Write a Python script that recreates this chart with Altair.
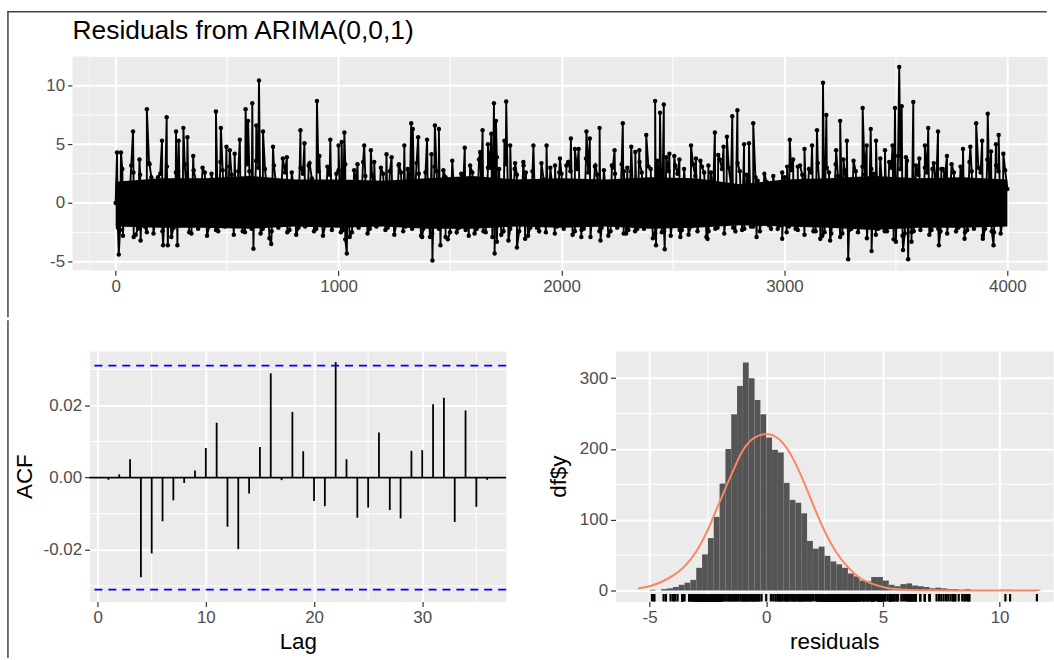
import altair as alt
import pandas as pd

FONT = "Liberation Sans"
TITLE = "Residuals from ARIMA(0,0,1)"
BORDER = "#444444"
PANEL = "#EBEBEB"

# ---------------- top panel: residual series ----------------
core_step = 20
core_v = [
    0.0, -2.3, 1.4, -0.6, 2.6, -2.2, 0.9, -2.5, 2.2, -1.1,
    2.5, -0.3, 1.7, -2.1, 2.7, -1.5, 0.4, -2.6, 1.9, -0.9,
    2.6, -2.0, 1.2, -2.4, 2.8, -0.7, 2.4, -1.3, 0.6, -2.5,
    2.7, -1.6, 3.0, -2.2, 0.8, -2.4, 1.5, -0.2, 2.6, -2.3,
    1.1, -2.1, 2.5, -0.8, 2.1, -2.2, 0.3, -1.9, 2.4, -1.4,
    2.8, -2.3, 0.7, -2.5, 1.8, -1.0, 2.3, -2.2, 1.3, -0.5,
    2.5, -2.1, 0.9, -1.7, 2.6, -2.0, 1.6, -0.4, 2.5, -2.2,
    1.0, -2.6, 2.7, -1.2, 2.2, -2.5, 0.5, -2.1, 1.9, -0.8,
    2.6, -2.2, 1.4, -2.5, 3.0, -0.6, 2.9, -2.4, 0.2, -1.8,
    2.4, -1.1, 2.6, -2.1, 0.6, -2.4, 2.0, -1.5, 1.2, -2.0,
    2.5, -0.9, 2.7, -2.4, 1.5, -2.2, 2.6, -0.4, 2.4, -2.1,
    0.8, -2.4, 2.5, -1.6, 2.7, -2.3, 1.1, -2.2, 2.6, -0.7,
    2.9, -2.6, 1.7, -2.4, 2.7, -1.0, 2.5, -2.3, 0.4, -2.0,
    2.3, -1.4, 2.6, -2.4, 0.9, -2.1, 2.9, -0.5, 1.6, -2.4,
    2.7, -2.2, 1.3, -2.0, 1.9, -0.8, 1.8, -2.2, 0.5, -1.9,
    2.2, -2.0, 1.0, -2.3, 2.4, -1.3, 2.6, -2.4, 0.7, -2.5,
    2.6, -0.6, 2.3, -2.6, 1.4, -2.2, 2.7, -1.7, 2.4, -0.3,
    2.5, -2.2, 0.9, -2.4, 3.0, -1.2, 2.9, -2.6, 1.6, -2.4,
    2.4, -0.9, 2.6, -2.3, 1.2, -2.4, 2.3, -0.5, 2.6, -2.1,
    1.5, -2.3, 2.7, -1.0, 2.6, -2.2, 0.6, -2.5, 2.7, -1.4, 1.2,
]
core_t = [i * core_step for i in range(len(core_v))]

# second set of band points, half-way between the first ones
core2_v = [
    -2.1, 2.9, -1.8, 3.2, -2.7, 2.4, -2.0, 3.4, -2.6, 2.2,
    -2.4, 3.1, -2.9, 2.6, -1.9, 3.3, -2.5, 2.8, -2.2, 3.0,
    -2.8, 2.5, -2.3, 3.5, -2.0, 3.1, -2.7, 2.7, -2.4, 3.3,
    -2.2, 3.6, -2.6, 2.9, -3.0, 3.2, -2.1, 3.8, -2.5, 2.6,
    -2.7, 3.0, -2.0, 3.4, -2.4, 2.7, -2.8, 3.1, -2.3, 2.5,
    -2.5, 3.3, -2.9, 2.8, -2.1, 3.5, -2.6, 2.4, -2.0, 3.0,
    -2.3, 2.7, -2.7, 3.2, -2.4, 2.9, -2.2, 3.4, -2.8, 2.6,
    -2.9, 3.1, -2.2, 2.8, -3.1, 3.6, -2.5, 2.5, -2.3, 3.2,
    -2.6, 3.7, -2.4, 3.0, -2.9, 3.9, -2.7, 3.3, -2.2, 2.9,
    -2.4, 3.2, -2.8, 2.7, -2.1, 3.4, -2.5, 3.0, -2.6, 2.6,
    -2.2, 3.5, -2.7, 2.9, -2.3, 3.8, -2.9, 3.1, -2.4, 2.8,
    -2.8, 3.0, -2.1, 3.3, -2.6, 2.7, -2.4, 3.5, -2.2, 3.1,
    -3.0, 3.6, -2.5, 3.9, -2.8, 3.2, -2.3, 2.9, -2.7, 3.3,
    -2.4, 3.1, -2.9, 2.6, -2.2, 3.7, -2.6, 3.0, -2.1, 3.4,
    -2.3, 2.4, -2.0, 2.2, -2.4, 2.5, -1.9, 2.3, -2.2, 2.6,
    -2.5, 2.8, -2.2, 3.2, -2.7, 2.9, -2.4, 3.4, -2.8, 3.0,
    -2.6, 3.3, -2.9, 2.8, -2.3, 3.6, -2.5, 3.1, -3.0, 2.9,
    -2.7, 3.8, -2.4, 3.5, -3.1, 4.0, -2.8, 3.6, -2.5, 3.2,
    -2.3, 3.0, -2.7, 3.4, -2.2, 2.9, -2.6, 3.3, -2.4, 3.1,
    -2.5, 3.5, -2.2, 3.0, -2.8, 3.7, -2.4, 3.2, -2.6, 2.8,
]
core2_t = [10 + i * core_step for i in range(len(core2_v))]

spike_t = [
    6, 24, 78, 107, 140, 152, 208, 229, 271, 283,
    304, 322, 348, 450, 472, 497, 512, 534, 557, 583,
    594, 613, 631, 643, 661, 706, 768, 829, 847, 866,
    903, 914, 963, 1000, 1014, 1026, 1085, 1115, 1145, 1160,
    1215, 1238, 1271, 1295, 1326, 1333, 1357, 1397, 1417, 1432,
    1450, 1566, 1635, 1646, 1670, 1685, 1697, 1706, 1744, 1752,
    1770, 1792, 1829, 1874, 1933, 1971, 1993, 2022, 2042, 2060,
    2077, 2112, 2127, 2152, 2171, 2226, 2238, 2275, 2295, 2313,
    2331, 2349, 2380, 2420, 2442, 2459, 2484, 2506, 2529, 2581,
    2603, 2623, 2659, 2688, 2703, 2727, 2742, 2766, 2789, 2819,
    2841, 2860, 3012, 3024, 3039, 3060, 3090, 3124, 3146, 3173,
    3188, 3232, 3250, 3265, 3280, 3351, 3369, 3387, 3411, 3451,
    3485, 3496, 3515, 3526, 3545, 3578, 3605, 3630, 3645, 3664,
    3689, 3704, 3729, 3801, 3834, 3860, 3887, 3912, 3927, 3949,
    3961, 3982,
]
spike_v = [
    4.3, 4.3, 6.1, 3.7, 8.0, 3.3, 5.3, 7.3, 6.1, 5.3,
    6.4, 5.6, 4.0, 7.8, 6.4, 4.8, 4.5, 4.2, 5.4, 8.0,
    7.0, 8.5, 6.6, 10.45, 6.1, 4.8, 3.9, 6.2, 5.1, 3.2,
    8.7, 4.0, 5.4, 4.9, 5.2, 6.0, 3.3, 4.9, 4.5, 3.5,
    4.15, 3.9, 3.3, 4.9, 6.8, 6.3, 5.6, 5.4, 4.15, 6.6,
    6.3, 4.7, 4.35, 6.2, 5.0, 5.9, 8.5, 7.0, 5.3, 8.65,
    4.9, 3.4, 3.5, 4.9, 4.9, 3.2, 3.8, 3.2, 5.5, 4.6,
    4.6, 6.1, 5.5, 3.2, 6.4, 3.2, 4.5, 6.8, 3.0, 4.8,
    4.35, 4.5, 5.8, 8.7, 7.7, 8.4, 4.2, 4.0, 3.7, 4.9,
    3.8, 3.6, 3.2, 6.0, 4.1, 4.8, 5.65, 7.4, 7.9, 5.0,
    5.1, 6.8, 3.1, 5.4, 3.7, 3.1, 4.6, 4.9, 6.2, 10.25,
    7.5, 4.5, 7.0, 3.7, 5.3, 8.1, 4.9, 6.3, 5.3, 4.5,
    4.9, 8.1, 11.6, 8.25, 3.9, 8.6, 3.8, 4.9, 6.4, 2.9,
    6.1, 2.9, 4.0, 4.6, 4.8, 6.8, 5.3, 7.6, 4.4, 5.0,
    5.8, 4.2,
]

dip_t = [
    14, 33, 81, 112, 213, 234, 277, 618, 698, 1030,
    1037, 1375, 1421, 1457, 1480, 1584, 1700, 1710, 1762, 1800,
    1837, 2089, 2175, 2279, 2424, 2463, 2533, 2655, 2875, 2990,
    3161, 3205, 3286, 3391, 3500, 3532, 3555, 3570, 3693, 3808,
    3890, 3938,
]
dip_v = [
    -4.4, -2.8, -2.9, -3.2, -3.6, -3.6, -3.6, -3.9, -3.5, -3.1,
    -4.3, -2.9, -4.9, -3.6, -2.9, -2.8, -4.3, -3.3, -3.2, -3.8,
    -3.05, -2.9, -3.2, -2.6, -3.6, -3.95, -2.9, -3.05, -2.9, -3.05,
    -3.05, -3.2, -4.8, -4.1, -3.3, -4.0, -4.8, -3.3, -3.6, -3.05,
    -3.05, -3.6,
]

# dense core of the series (solid black band), read as an envelope every 200 steps
band_t = [0, 200, 400, 600, 800, 1000, 1200, 1400, 1600, 1800, 2000,
          2200, 2400, 2600, 2800, 3000, 3200, 3400, 3600, 3800, 4000]
band_hi = [1.8, 2.1, 2.1, 2.3, 2.0, 2.0, 1.9, 2.1, 2.3, 2.0, 2.1,
           2.0, 2.2, 2.1, 1.6, 2.0, 2.1, 2.3, 2.1, 2.2, 2.0]
band_lo = [-2.0, -2.1, -2.1, -2.2, -2.0, -2.1, -2.0, -2.2, -2.2, -2.0, -2.1,
           -2.0, -2.2, -2.1, -1.9, -2.0, -2.1, -2.3, -2.1, -2.1, -2.0]

top_x_ticks = [0, 1000, 2000, 3000, 4000]
top_y_ticks = [-5, 0, 5, 10]
top_minor_x = [500, 1500, 2500, 3500]
top_minor_y = [-2.5, 2.5, 7.5]

# ---------------- ACF panel ----------------
acf_lag = list(range(1, 37))
acf_val = [
    -0.0006, 0.0009, 0.0051, -0.0276, -0.0210, -0.0121, -0.0063, -0.0015, 0.0020, 0.0082,
    0.0152, -0.0136, -0.0198, -0.0044, 0.0085, 0.0289, -0.0007, 0.0182, 0.0073, -0.0065,
    -0.0079, 0.0320, 0.0051, -0.0111, -0.0083, 0.0125, -0.0090, -0.0113, 0.0074, 0.0076,
    0.0203, 0.0221, -0.0123, 0.0186, -0.0081, -0.0006,
]
acf_ci = [0.031, -0.031]
acf_x_ticks = [0, 10, 20, 30]
acf_y_ticks = [-0.02, 0.0, 0.02]
acf_minor_x = [5, 15, 25, 35]
acf_minor_y = [-0.03, -0.01, 0.01, 0.03]

# ---------------- histogram panel ----------------
hist_binwidth = 0.25
hist_start = [
    -5.0, -4.5, -4.25, -4.0, -3.75, -3.5, -3.25, -3.0, -2.75, -2.5,
    -2.25, -2.0, -1.75, -1.5, -1.25, -1.0, -0.75, -0.5, -0.25, 0.0,
    0.25, 0.5, 0.75, 1.0, 1.25, 1.5, 1.75, 2.0, 2.25, 2.5,
    2.75, 3.0, 3.25, 3.5, 3.75, 4.0, 4.25, 4.5, 4.75, 5.0,
    5.25, 5.5, 5.75, 6.0, 6.25, 6.5, 6.75, 7.0, 7.25, 7.5,
    7.75, 8.0, 8.25, 8.5, 10.0, 10.25, 11.5,
]
hist_count = [
    1, 2, 3, 5, 8, 11, 15, 32, 51, 74,
    104, 151, 200, 249, 289, 322, 300, 269, 249, 216,
    199, 195, 152, 128, 124, 109, 70, 59, 62, 49,
    41, 37, 32, 24, 20, 14, 13, 19, 19, 14,
    8, 6, 9, 10, 7, 6, 5, 3, 4, 3,
    2, 2, 1, 2, 1, 1, 1,
]
curve_x = [-5.5, -5.0, -4.5, -4.0, -3.5, -3.0, -2.5, -2.0, -1.5, -1.0,
           -0.5, 0.0, 0.5, 1.0, 1.5, 2.0, 2.5, 3.0, 3.5, 4.0,
           4.5, 5.0, 5.5, 6.0, 7.0, 8.0, 9.0, 10.0, 11.0, 11.6]
curve_y = [3, 6, 12, 21, 34, 55, 86, 125, 163, 198,
           216, 221, 215, 195, 162, 122, 84, 54, 33, 18,
           10, 5, 2, 1, 0.3, 0, 0, 0, 0, 0]
hist_x_ticks = [-5, 0, 5, 10]
hist_y_ticks = [0, 100, 200, 300]
hist_minor_x = [-2.5, 2.5, 7.5]
hist_minor_y = [50, 150, 250]

# ---------------- data frames ----------------
top_df = pd.concat([
    pd.DataFrame({"t": core_t, "v": core_v}),
    pd.DataFrame({"t": core2_t, "v": core2_v}),
    pd.DataFrame({"t": spike_t, "v": spike_v}),
    pd.DataFrame({"t": dip_t, "v": dip_v}),
]).sort_values("t", kind="stable").reset_index(drop=True)
band_df = pd.DataFrame({"t": band_t, "hi": band_hi, "lo": band_lo})
acf_df = pd.DataFrame({"lag": acf_lag, "acf": acf_val, "zero": [0.0] * len(acf_lag)})
hist_df = pd.DataFrame({"start": hist_start, "count": hist_count})
hist_df["end"] = hist_df["start"] + hist_binwidth
hist_df["base"] = 0
curve_df = pd.DataFrame({"x": curve_x, "y": curve_y})
rug_df = pd.DataFrame({"r": top_df["v"]})
one = pd.DataFrame({"k": [0]})


def lab(fmt):
    return ("datum.value < 0 ? '-' + format(-datum.value, '%s') : format(datum.value, '%s')"
            % (fmt, fmt))


def vgrid(vals, xs):
    return alt.Chart(pd.DataFrame({"g": vals})).mark_rule(color="white", strokeWidth=1).encode(x=xs("g"))


def hgrid(vals, ys):
    return alt.Chart(pd.DataFrame({"g": vals})).mark_rule(color="white", strokeWidth=1).encode(y=ys("g"))


# ---------------- top chart ----------------
# the plot origin is shared with the ACF panel; the top panel reaches EXT px further left
EXT = 17
TOP_W, TOP_H = 963, 215
x_top_s = alt.Scale(domain=[-117.3, 4178], nice=False, zero=False)
y_top_s = alt.Scale(domain=[-5.74, 12.48], nice=False, zero=False)
x_top_a = alt.Axis(values=top_x_ticks, title=None, labelExpr=lab("d"))
y_top_a = alt.Axis(values=top_y_ticks, title=None, labelExpr=lab("d"), grid=False, offset=EXT)


def xt(f):
    return alt.X(f + ":Q", scale=x_top_s, axis=x_top_a)


def yt(f):
    return alt.Y(f + ":Q", scale=y_top_s, axis=y_top_a)


top_ext_bg = alt.Chart(one).mark_rect(color=PANEL).encode(
    x=alt.value(-EXT), x2=alt.value(0), y=alt.value(0), y2=alt.value(TOP_H))
top_hmaj = alt.Chart(pd.DataFrame({"g": top_y_ticks})).mark_rule(color="white", strokeWidth=2).encode(
    x=alt.value(-EXT), x2=alt.value(TOP_W), y=yt("g"))
top_hmin = alt.Chart(pd.DataFrame({"g": top_minor_y})).mark_rule(color="white", strokeWidth=1).encode(
    x=alt.value(-EXT), x2=alt.value(TOP_W), y=yt("g"))
top_band = alt.Chart(band_df).mark_area(color="black", opacity=1).encode(
    x=xt("t"), y=yt("lo"), y2="hi:Q")
top_line = alt.Chart(top_df).mark_line(color="black", strokeWidth=1.9).encode(x=xt("t"), y=yt("v"))
top_pts = alt.Chart(top_df).mark_circle(color="black", size=20, opacity=1).encode(x=xt("t"), y=yt("v"))
top_title = alt.Chart(one).mark_text(
    text=TITLE, align="left", baseline="alphabetic", font=FONT, fontSize=26.5, color="black"
).encode(x=alt.value(-EXT), y=alt.value(-17.5))
border_top = alt.Chart(one).mark_rule(color=BORDER, strokeWidth=1.5, strokeCap="square").encode(
    x=alt.value(-82), x2=alt.value(TOP_W - 1), y=alt.value(-45))
border_left_top = alt.Chart(one).mark_rule(color=BORDER, strokeWidth=1.5, strokeCap="square").encode(
    x=alt.value(-82), y=alt.value(-45), y2=alt.value(261.5))

top = alt.layer(
    top_ext_bg, top_hmaj, top_hmin, vgrid(top_minor_x, xt),
    top_band, top_line, top_pts, top_title, border_top, border_left_top,
).properties(width=TOP_W, height=TOP_H)

# ---------------- ACF chart ----------------
ACF_W, ACF_H = 419, 252
x_acf_s = alt.Scale(domain=[-0.75, 37.75], nice=False, zero=False)
y_acf_s = alt.Scale(domain=[-0.0343, 0.0351], nice=False, zero=False)
x_acf_a = alt.Axis(values=acf_x_ticks, title="Lag", labelExpr=lab("d"))
y_acf_a = alt.Axis(values=acf_y_ticks, title="ACF", labelExpr=lab(".2f"), titlePadding=7)


def xa(f):
    return alt.X(f + ":Q", scale=x_acf_s, axis=x_acf_a)


def ya(f):
    return alt.Y(f + ":Q", scale=y_acf_s, axis=y_acf_a)


acf_zero = alt.Chart(pd.DataFrame({"z": [0.0]})).mark_rule(color="black", strokeWidth=1.8).encode(y=ya("z"))
acf_ci_l = alt.Chart(pd.DataFrame({"c": acf_ci})).mark_rule(
    color="blue", strokeWidth=1.8, strokeDash=[8, 6]).encode(y=ya("c"))
acf_bars = alt.Chart(acf_df).mark_rule(color="black", strokeWidth=1.8).encode(
    x=xa("lag"), y=ya("zero"), y2="acf:Q")
border_left_bot = alt.Chart(one).mark_rule(color=BORDER, strokeWidth=1.5, strokeCap="square").encode(
    x=alt.value(-82), y=alt.value(-30), y2=alt.value(308))

acf = alt.layer(
    vgrid(acf_minor_x, xa), hgrid(acf_minor_y, ya),
    acf_zero, acf_bars, acf_ci_l, border_left_bot,
).properties(width=ACF_W, height=ACF_H)

# ---------------- histogram chart ----------------
HIST_W, HIST_H = 440, 252
x_h_s = alt.Scale(domain=[-6.46, 12.29], nice=False, zero=False)
y_h_s = alt.Scale(domain=[-15.5, 338.5], nice=False, zero=False)
x_h_a = alt.Axis(values=hist_x_ticks, title="residuals", labelExpr=lab("d"))
y_h_a = alt.Axis(values=hist_y_ticks, title="df$y", labelExpr=lab("d"), titlePadding=9)


def xh(f):
    return alt.X(f + ":Q", scale=x_h_s, axis=x_h_a)


def yh(f):
    return alt.Y(f + ":Q", scale=y_h_s, axis=y_h_a)


hist_bars = alt.Chart(hist_df).mark_rect(color="#555555").encode(
    x=xh("start"), x2="end:Q", y=yh("count"), y2="base:Q")
hist_curve = alt.Chart(curve_df).mark_line(color="#FA8760", strokeWidth=2, interpolate="monotone").encode(
    x=xh("x"), y=yh("y"))
hist_rug = alt.Chart(rug_df).mark_rule(color="black", strokeWidth=2.2).encode(
    x=xh("r"), y=alt.value(HIST_H), y2=alt.value(HIST_H - 7.5))
hist_anchor = alt.Chart(one).mark_rule(color=PANEL, strokeWidth=1.5, strokeCap="square", opacity=0.01).encode(
    x=alt.value(-10), x2=alt.value(0), y=alt.value(-30))

hist = alt.layer(
    vgrid(hist_minor_x, xh), hgrid(hist_minor_y, yh),
    hist_bars, hist_curve, hist_rug, hist_anchor,
).properties(width=HIST_W, height=HIST_H)

bottom = alt.hconcat(acf, hist, spacing=39)
chart = alt.vconcat(top, bottom, spacing=0).properties(
    padding={"left": 6, "top": 8, "right": 0, "bottom": 0}, background="white"
).configure_view(
    fill=PANEL, stroke="transparent"
).configure_axis(
    domain=False, grid=True, gridColor="white", gridWidth=2,
    tickColor="#333333", tickSize=5, tickWidth=1.2,
    labelColor="#4D4D4D", labelFont=FONT, labelFontSize=17, labelPadding=3,
    labelFlush=False, labelOverlap=False,
    titleFont=FONT, titleFontSize=22.5, titleFontWeight="normal", titleColor="black", titlePadding=5,
)

chart.save("out.html", embed_options={"renderer": "svg", "actions": False})
